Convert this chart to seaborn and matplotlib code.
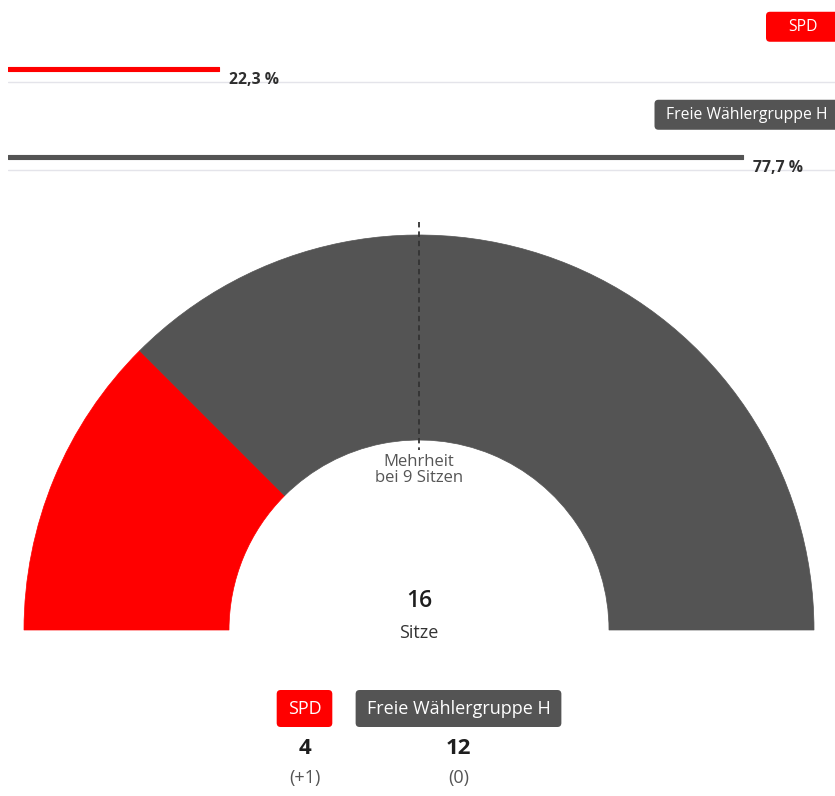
import matplotlib
matplotlib.use("Agg")
import matplotlib.pyplot as plt
from matplotlib.patches import Wedge, FancyBboxPatch
from matplotlib.transforms import IdentityTransform
import seaborn as sns
import pandas as pd

# ---- data ----
parties = ["SPD", "Freie Wählergruppe H"]
vote_share = [22.3, 77.7]
share_labels = ["22,3 %", "77,7 %"]
seats = [4, 12]
seat_change = ["(+1)", "(0)"]
colors = ["#ff0000", "#545454"]
total_seats = 16
majority = 9

sns.set_theme(style="white")
plt.rcParams["font.family"] = ["Open Sans", "DejaVu Sans"]

W, H = 835, 796
fig = plt.figure(figsize=(W / 100, H / 100), dpi=100)


def badge(ax, x, y, label, color, fs, padx, h, minw, align="center"):
    t = ax.text(x, y, label, fontsize=fs, color="white", ha="center",
                va="center", zorder=5, clip_on=False)
    fig.canvas.draw()
    r = fig.canvas.get_renderer()
    bb = t.get_window_extent(r)
    w = max(bb.width + 2 * padx, minw)
    px, py = ax.transData.transform((x, y))
    cx = px - w / 2 if align == "right" else px
    t.set_position(tuple(ax.transData.inverted().transform((cx, py))))
    patch = FancyBboxPatch((cx - w / 2, py - h / 2), w, h,
                           boxstyle="round,pad=0,rounding_size=4",
                           fc=color, ec="none", transform=IdentityTransform(),
                           zorder=4, clip_on=False)
    ax.add_artist(patch)


# ---- top: vote share bars ----
scale = 9.46
ax = fig.add_axes([8 / W, (H - 201) / H, (W - 8) / W, 176 / H])
df = pd.DataFrame({"party": parties, "share": vote_share})
sns.barplot(data=df, x="share", y="party", hue="party", palette=colors,
            orient="h", width=0.035, legend=False, ax=ax, saturation=1)
for bar, c in zip(ax.patches, colors):
    bar.set_edgecolor(c)
    bar.set_linewidth(0.8)
    bar.set_joinstyle("round")
xmax = (W - 8) / scale
ax.set_xlim(0, xmax)
ax.set_ylim(1.5, -0.5)
ax.axis("off")
for i, (v, lab) in enumerate(zip(vote_share, share_labels)):
    ax.axhline(i + 0.15, color="#e4e4ea", lw=1, zorder=0)
    ax.text(v + 1.1, i + 0.13, lab, fontsize=11.3, fontweight="bold",
            color="#2e2e2e", va="center", ha="left")
for i, (p, c) in enumerate(zip(parties, colors)):
    badge(ax, (840 - 8) / scale, i - 0.48, p, c, 11.3, 12, 30, 74, align="right")

# ---- bottom: seat hemicycle ----
ax2 = fig.add_axes([0, 0, 1, (H - 200) / H])
cx0 = 419
ax2.set_xlim(-cx0, W - cx0)
ax2.set_ylim(-(H - 630), 630 - 200)
ax2.set_aspect("equal")
ax2.axis("off")
R_out, R_in = 395, 190
start = 180.0
for s, c in zip(seats, colors):
    span = 180.0 * s / total_seats
    ax2.add_patch(Wedge((0, 0), R_out, start - span, start, width=R_out - R_in,
                        facecolor=c, edgecolor=c, lw=0.5))
    start -= span
ax2.plot([0, 0], [R_out + 13, R_in - 10], color="#333333", lw=1.3,
         dashes=(3, 2.2), zorder=5)
ax2.text(0, 168, "Mehrheit", ha="center", va="center", fontsize=12, color="#555555")
ax2.text(0, 152, "bei " + str(majority) + " Sitzen", ha="center", va="center",
         fontsize=12, color="#555555")
ax2.text(0, 29, str(total_seats), ha="center", va="center", fontsize=16.5,
         fontweight="semibold", color="#1e1e1e")
ax2.text(0, -3, "Sitze", ha="center", va="center", fontsize=13, color="#333333")

legend_x = [-114.5, 39.5]
for x, p, c, s, ch in zip(legend_x, parties, colors, seats, seat_change):
    badge(ax2, x, -78.5, p, c, 13, 11, 37, 0)
    ax2.text(x, -118, str(s), ha="center", va="center", fontsize=16,
             fontweight="bold", color="#1e1e1e")
    ax2.text(x, -148, ch, ha="center", va="center", fontsize=13, color="#555555")

fig.savefig("out.png", dpi=100)
